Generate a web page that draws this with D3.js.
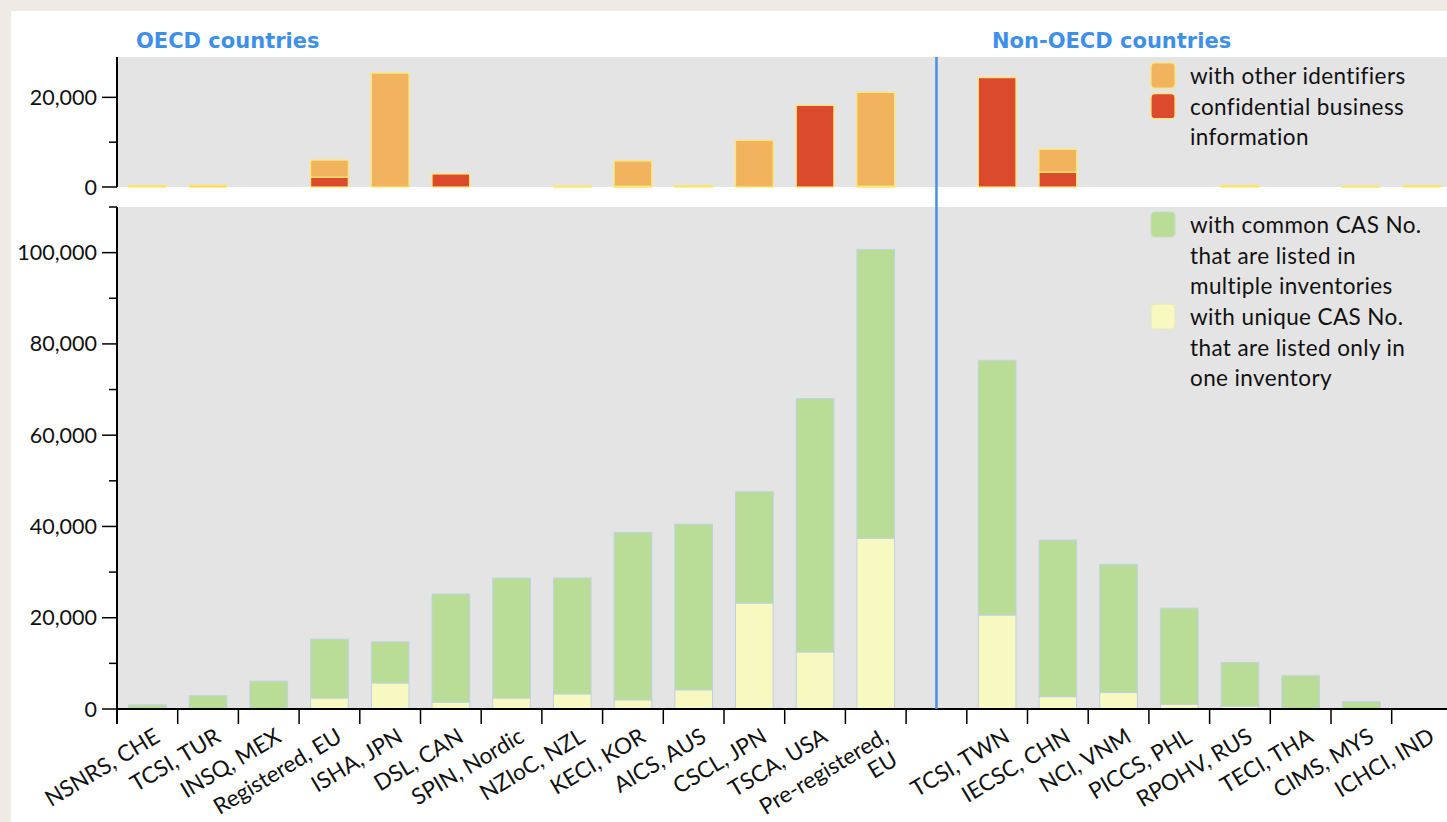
<!DOCTYPE html>
<html>
<head>
<meta charset="utf-8">
<script src="https://cdn.jsdelivr.net/npm/d3@7"></script>
<style>
  body { margin: 0; background: #eeebe4; }
  svg text { font-family: Lato, "Open Sans", sans-serif; }
</style>
</head>
<body>
<svg id="chart" width="1447" height="822"></svg>
<script>
// inventories, OECD first, then a gap, then non-OECD
const oecd = ["NSNRS, CHE", "TCSI, TUR", "INSQ, MEX", "Registered, EU", "ISHA, JPN", "DSL, CAN",
  "SPIN, Nordic", "NZIoC, NZL", "KECI, KOR", "AICS, AUS", "CSCL, JPN", "TSCA, USA", "Pre-registered, EU"];
const nonOecd = ["TCSI, TWN", "IECSC, CHN", "NCI, VNM", "PICCS, PHL", "RPOHV, RUS", "TECI, THA", "CIMS, MYS", "ICHCI, IND"];

// top panel
const otherIds = [300, 400, 0, 3800, 25400, 0, 0, 200, 5600, 300, 10400, 0, 20900,
  0, 5100, 0, 0, 300, 0, 200, 300];
const cbi = [0, 0, 0, 2200, 0, 2900, 0, 0, 200, 0, 0, 18200, 200,
  24400, 3300, 0, 0, 0, 0, 0, 0];

// bottom panel
const uniqueCas = [0, 0, 0, 2400, 5700, 1500, 2400, 3300, 2000, 4200, 23200, 12500, 37400,
  20600, 2700, 3600, 1000, 600, 0, 0, 0];
const commonCas = [900, 2900, 6100, 12900, 9000, 23700, 26300, 25400, 36700, 36300, 24400, 55500, 63300,
  55800, 34300, 28100, 21100, 9600, 7300, 1600, 0];

const topTicks = [0, 10000, 20000];
const bottomTicks = d3.range(0, 110001, 10000);

document.addEventListener('DOMContentLoaded', _ => {
  const svg = d3.select("svg#chart");
  const width = +svg.attr("width");

  const names = oecd.concat(nonOecd);
  const slots = oecd.concat(["gap"], nonOecd);
  const rows = names.map((n, i) => ({
    name: n, cbi: cbi[i], other: otherIds[i], unique: uniqueCas[i], common: commonCas[i]
  }));

  const left = 117;
  const topPanel = { y0: 57, y1: 187 };
  const botPanel = { y0: 207, y1: 709 };

  // white card
  svg.append("rect").attr("x", 11).attr("y", 11).attr("width", width).attr("height", 822)
    .attr("fill", "#ffffff");

  const x = d3.scaleBand().domain(slots).range([left, left + 22 * 60.7])
    .paddingInner(0.38).paddingOuter(0.19);
  const yTop = d3.scaleLinear().domain([0, 29000]).range([topPanel.y1, topPanel.y0]);
  const yBot = d3.scaleLinear().domain([0, 110000]).range([botPanel.y1, botPanel.y0]);

  // panel backgrounds
  svg.append("rect").attr("x", left).attr("y", topPanel.y0)
    .attr("width", width - left).attr("height", topPanel.y1 - topPanel.y0).attr("fill", "#e4e4e4");
  svg.append("rect").attr("x", left).attr("y", botPanel.y0)
    .attr("width", width - left).attr("height", botPanel.y1 - botPanel.y0).attr("fill", "#e4e4e4");

  // stacked bars, top panel
  const topStack = d3.stack().keys(["cbi", "other"])(rows);
  const topColors = { cbi: "#dc4a2e", other: "#f1b35d" };
  topStack.forEach(layer => {
    svg.append("g").selectAll("rect").data(layer.filter(d => d[1] > d[0])).join("rect")
      .attr("x", d => x(d.data.name))
      .attr("width", x.bandwidth())
      .attr("y", d => yTop(d[1]))
      .attr("height", d => Math.max(1, yTop(d[0]) - yTop(d[1])))
      .attr("fill", topColors[layer.key])
      .attr("stroke", "#fde86b")
      .attr("stroke-width", 1.2);
  });

  // stacked bars, bottom panel
  const botStack = d3.stack().keys(["unique", "common"])(rows);
  const botColors = { unique: "#f8f9c0", common: "#b9dc96" };
  botStack.forEach(layer => {
    svg.append("g").selectAll("rect").data(layer.filter(d => d[1] > d[0])).join("rect")
      .attr("x", d => x(d.data.name))
      .attr("width", x.bandwidth())
      .attr("y", d => yBot(d[1]))
      .attr("height", d => Math.max(1, yBot(d[0]) - yBot(d[1])))
      .attr("fill", botColors[layer.key])
      .attr("stroke", "#bed3e0")
      .attr("stroke-width", 1);
  });

  // left axes
  function leftAxis(scale, ticks, y0, y1) {
    const g = svg.append("g").attr("transform", `translate(${left},0)`);
    g.append("line").attr("x1", 0).attr("x2", 0).attr("y1", y0).attr("y2", y1)
      .attr("stroke", "#000").attr("stroke-width", 2);
    ticks.forEach(t => {
      const major = t % 20000 === 0;
      g.append("line").attr("x1", major ? -15 : -8).attr("x2", 0)
        .attr("y1", scale(t)).attr("y2", scale(t))
        .attr("stroke", "#000").attr("stroke-width", 1.5);
      if (major) {
        g.append("text").text(d3.format(",")(t))
          .attr("x", -20).attr("y", scale(t)).attr("dy", "0.35em")
          .attr("text-anchor", "end").attr("font-size", 21.5).attr("fill", "#111");
      }
    });
  }
  leftAxis(yTop, topTicks, topPanel.y0, topPanel.y1);
  leftAxis(yBot, bottomTicks, botPanel.y0, 724);

  // bottom axis: ticks at the band edges
  const gx = svg.append("g");
  gx.append("line").attr("x1", left).attr("x2", width).attr("y1", botPanel.y1).attr("y2", botPanel.y1)
    .attr("stroke", "#000").attr("stroke-width", 2);
  const half = x.step() * x.paddingInner() / 2;
  slots.forEach((s, i) => {
    if (i === 0) return;
    const tx = x(s) - half;
    gx.append("line").attr("x1", tx).attr("x2", tx).attr("y1", botPanel.y1).attr("y2", 724)
      .attr("stroke", "#000").attr("stroke-width", 1.5);
  });
  names.forEach(n => {
    const cx = x(n) + x.bandwidth() / 2 + 10;
    const parts = n === "Pre-registered, EU" ? ["Pre-registered,", "EU"] : [n];
    const t = gx.append("text")
      .attr("transform", `translate(${cx},734) rotate(-31)`)
      .attr("text-anchor", "end").attr("font-size", 22.5).attr("fill", "#111");
    parts.forEach((p, k) => {
      t.append("tspan").attr("x", k ? -4 : 0).attr("dy", k ? "1.1em" : "0.35em").text(p);
    });
  });

  // divider between OECD and non-OECD
  const gapX = x("gap") + x.bandwidth() / 2;
  svg.append("line").attr("x1", gapX).attr("x2", gapX)
    .attr("y1", topPanel.y0).attr("y2", botPanel.y1)
    .attr("stroke", "#4a8fe2").attr("stroke-width", 2.5);

  // group titles
  svg.append("text").text("OECD countries").attr("x", 136).attr("y", 48)
    .style("font-family", "'DejaVu Sans', sans-serif")
    .attr("font-size", 21).attr("font-weight", "bold").attr("fill", "#3d8fe8");
  svg.append("text").text("Non-OECD countries").attr("x", 992).attr("y", 48)
    .style("font-family", "'DejaVu Sans', sans-serif")
    .attr("font-size", 21).attr("font-weight", "bold").attr("fill", "#3d8fe8");

  // legends
  function legend(items, y) {
    let yy = y;
    items.forEach(it => {
      svg.append("rect").attr("x", 1151).attr("y", yy - 13).attr("width", 24).attr("height", 25)
        .attr("rx", 4).attr("fill", it.color).attr("stroke", it.stroke).attr("stroke-width", 1.2);
      it.lines.forEach(line => {
        svg.append("text").text(line).attr("x", 1190).attr("y", yy).attr("dy", "0.35em")
          .attr("font-size", 22.5).attr("letter-spacing", 0.4).attr("fill", "#111");
        yy += 30.7;
      });
    });
  }
  legend([
    { color: topColors.other, stroke: "#fde86b", lines: ["with other identifiers"] },
    { color: topColors.cbi, stroke: "#fde86b", lines: ["confidential business", "information"] }
  ], 76);
  legend([
    { color: botColors.common, stroke: "#c9dcc0", lines: ["with common CAS No.", "that are listed in", "multiple inventories"] },
    { color: botColors.unique, stroke: "#e6e8c0", lines: ["with unique CAS No.", "that are listed only in", "one inventory"] }
  ], 225);
});
</script>
</body>
</html>
